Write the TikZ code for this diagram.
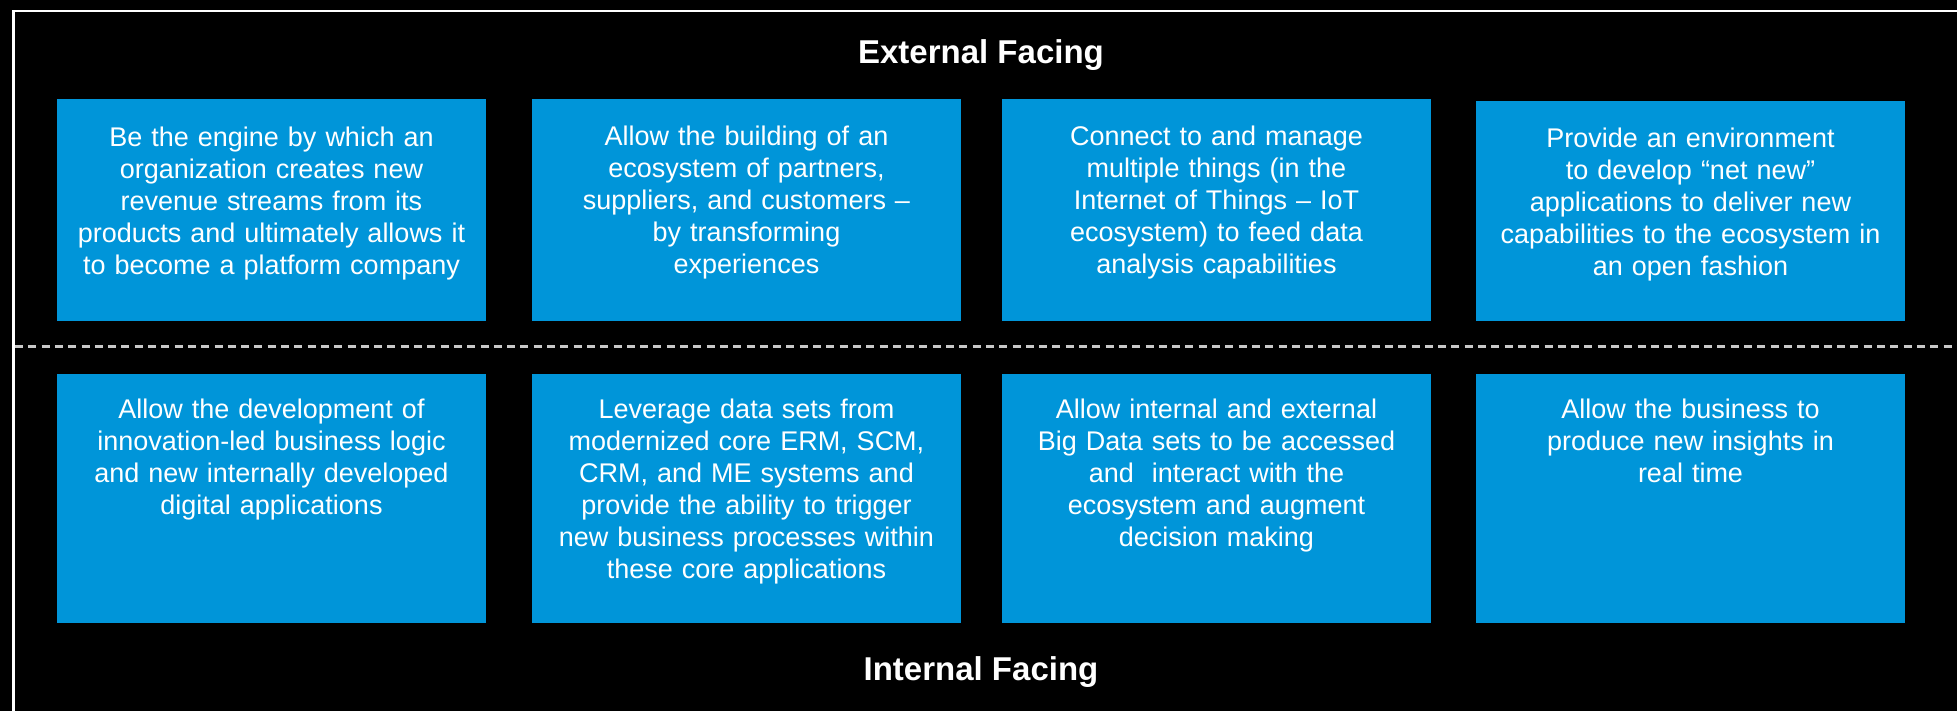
\documentclass[tikz,border=0pt]{standalone}
\usepackage{fontspec}
\setmainfont{Liberation Sans}
\definecolor{boxblue}{RGB}{0,149,217}
\definecolor{dashgray}{RGB}{200,200,200}
\begin{document}
\begin{tikzpicture}[x=1pt,y=-1pt,
  bluebox/.style={fill=boxblue, draw=none, inner sep=0pt, outer sep=0pt,
    minimum width=429pt, minimum height=222pt, anchor=north west},
  bluebox2/.style={bluebox, minimum height=249pt},
  boxtext/.style={text=white, text width=429pt, align=center, anchor=base,
    inner sep=0pt, font={\fontsize{27}{32}\selectfont}},
  header/.style={text=white, anchor=base, inner sep=0pt,
    font={\fontsize{33}{40}\selectfont\bfseries}}]
\fill[black] (0,0) rectangle (1957,711);
\useasboundingbox (0,0) rectangle (1957,711);
% frame (top and left edges visible)
\coordinate (fr) at (1957,11);
\coordinate (fc) at (13.5,11);
\coordinate (fb) at (13.5,711);
\draw[white, line width=2.5pt] (fr) -- (fc) -- (fb);
% dashed separator
\coordinate (dl) at (15,346.5);
\coordinate (dr) at (1957,346.5);
\draw[dashgray, line width=3pt, dash pattern=on 8pt off 5.3pt] (dl) -- (dr);
% headers
\node[header] (ext) at (981,64) {External Facing};
\node[header] (int) at (981,680) {Internal Facing};
% top row boxes
\node[bluebox] (b1) at (57,99) {};
\node[bluebox] (b2) at (532,99) {};
\node[bluebox] (b3) at (1002,99) {};
\node[bluebox, minimum height=220pt] (b4) at (1476,101) {};
% bottom row boxes
\node[bluebox2] (b5) at (57,374) {};
\node[bluebox2] (b6) at (532,374) {};
\node[bluebox2] (b7) at (1002,374) {};
\node[bluebox2] (b8) at (1476,374) {};
% texts
\node[boxtext] (t1) at (271.5,147) {Be the engine by which an\\organization creates new\\revenue streams from its\\products and ultimately allows it\\to become a platform company};
\node[boxtext] (t2) at (746.5,146) {Allow the building of an\\ecosystem of partners,\\suppliers, and customers --\\by transforming\\experiences};
\node[boxtext] (t3) at (1216.5,145.5) {Connect to and manage\\multiple things (in the\\Internet of Things -- IoT\\ecosystem) to feed data\\analysis capabilities};
\node[boxtext] (t4) at (1690.5,148) {Provide an environment\\to develop “net new”\\applications to deliver new\\capabilities to the ecosystem in\\an open fashion};
\node[boxtext] (t5) at (271.5,418) {Allow the development of\\innovation-led business logic\\and new internally developed\\digital applications};
\node[boxtext] (t6) at (746.5,418) {Leverage data sets from\\modernized core ERM, SCM,\\CRM, and ME systems and\\provide the ability to trigger\\new business processes within\\these core applications};
\node[boxtext] (t7) at (1216.5,418) {Allow internal and external\\Big Data sets to be accessed\\and\ \ interact with the\\ecosystem and augment\\decision making};
\node[boxtext] (t8) at (1690.5,418) {Allow the business to\\produce new insights in\\real time};
\end{tikzpicture}
\end{document}
